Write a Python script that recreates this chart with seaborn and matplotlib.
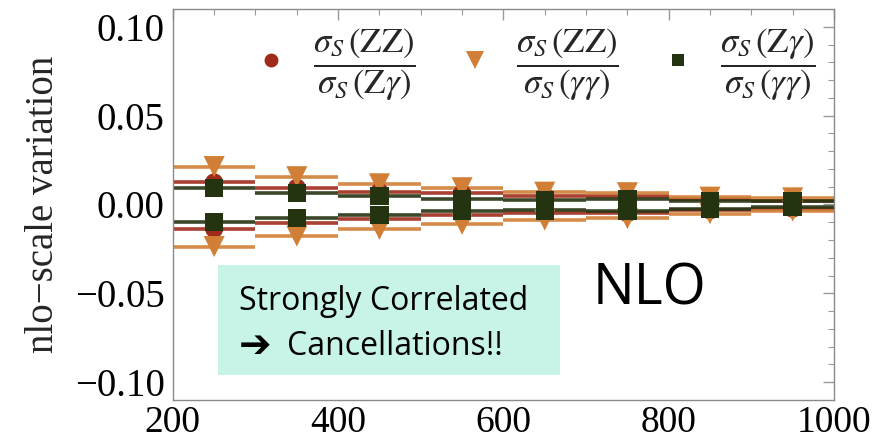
import numpy as np
import pandas as pd
import matplotlib
matplotlib.use("Agg")
import matplotlib.pyplot as plt
from matplotlib.lines import Line2D
from matplotlib.patches import Rectangle
import seaborn as sns

# Bin centres (GeV) and bin half-width
bin_centers = [250, 350, 450, 550, 650, 750, 850, 950]
bin_half = 50

# Upper / lower NLO scale variation of the cross-section ratios
zz_over_zg_up = [0.0124, 0.0094, 0.0071, 0.0062, 0.0047, 0.0047, 0.0028, 0.0022]
zz_over_zg_dn = [-0.0138, -0.0103, -0.0084, -0.0060, -0.0047, -0.0050, -0.0034, -0.0024]
zz_over_gg_up = [0.0213, 0.0156, 0.0116, 0.0094, 0.0069, 0.0066, 0.0041, 0.0037]
zz_over_gg_dn = [-0.0237, -0.0178, -0.0140, -0.0112, -0.0088, -0.0079, -0.0052, -0.0037]
zg_over_gg_up = [0.0091, 0.0066, 0.0047, 0.0032, 0.0024, 0.0028, 0.0019, 0.0019]
zg_over_gg_dn = [-0.0098, -0.0075, -0.0060, -0.0037, -0.0034, -0.0037, -0.0024, -0.0013]

series_labels = [
    r"$\dfrac{\sigma_S\,(\mathrm{ZZ})}{\sigma_S\,(\mathrm{Z}\gamma)}$",
    r"$\dfrac{\sigma_S\,(\mathrm{ZZ})}{\sigma_S\,(\gamma\gamma)}$",
    r"$\dfrac{\sigma_S\,(\mathrm{Z}\gamma)}{\sigma_S\,(\gamma\gamma)}$",
]
series_keys = ["zz_zg", "zz_gg", "zg_gg"]
colors = {"zz_zg": "#A02B1B", "zz_gg": "#D17F36", "zg_gg": "#243310"}
markers = {"zz_zg": "o", "zz_gg": "v", "zg_gg": "s"}
sizes = {"zz_zg": 170, "zz_gg": 230, "zg_gg": 175}

rows = []
for key, up, dn in [("zz_zg", zz_over_zg_up, zz_over_zg_dn),
                    ("zz_gg", zz_over_gg_up, zz_over_gg_dn),
                    ("zg_gg", zg_over_gg_up, zg_over_gg_dn)]:
    for x, u, d in zip(bin_centers, up, dn):
        rows.append({"mass": x, "var": u, "series": key})
        rows.append({"mass": x, "var": d, "series": key})
df = pd.DataFrame(rows)

sns.set_theme(style="white")
plt.rcParams["font.family"] = ["Liberation Serif", "DejaVu Serif"]
plt.rcParams["mathtext.fontset"] = "stix"

fig = plt.figure(figsize=(8.91, 4.43), dpi=100)
ax = fig.add_axes([0.194, 0.097, 0.742, 0.883])

for key in series_keys:
    sub = df[df["series"] == key]
    ax.errorbar(sub["mass"], sub["var"], xerr=bin_half, fmt="none",
                ecolor=colors[key], elinewidth=2.6, capsize=0, alpha=0.9, zorder=2)
    sns.scatterplot(data=sub, x="mass", y="var", ax=ax, color=colors[key],
                    marker=markers[key], s=sizes[key], edgecolor="none",
                    legend=False, zorder=3)

ax.set_xlim(200, 1000)
ax.set_ylim(-0.1101, 0.1101)
ax.set_xticks([200, 400, 600, 800, 1000])
ax.set_xticks(np.arange(250, 1000, 50), minor=True)
ax.set_yticks([-0.10, -0.05, 0.0, 0.05, 0.10])
ax.set_yticks(np.arange(-0.10, 0.1001, 0.01), minor=True)
ax.set_yticklabels(["\u22120.10", "\u22120.05", "0.00", "0.05", "0.10"])
ax.set_xlabel("")
ax.set_ylabel("nlo\u2212scale variation", fontsize=28, labelpad=9)

for side in ax.spines.values():
    side.set_color("#8a8a8a")
    side.set_linewidth(1.0)
ax.tick_params(axis="both", which="both", direction="in", top=True, right=True,
               color="#9a9a9a", labelsize=28, labelcolor="black")
ax.tick_params(which="major", length=8, width=1.0, pad=6)
ax.tick_params(which="minor", length=4, width=0.8)
ax.tick_params(axis="x", pad=4, labelsize=27)

handles = [Line2D([], [], linestyle="none", marker=markers[k], color=colors[k],
                  markersize={"zz_zg": 10, "zz_gg": 13, "zg_gg": 8.5}[k],
                  markeredgewidth=0) for k in series_keys]
ax.legend(handles, series_labels, loc="upper center", bbox_to_anchor=(0.55, 1.0),
          ncol=3, frameon=False, fontsize=25, handlelength=0.8, handletextpad=0.8,
          columnspacing=1.3, borderaxespad=0.1)

# Annotation box
ax.add_patch(Rectangle((218 / 891, (443 - 375) / 443), (560 - 218) / 891, 110 / 443,
                       transform=fig.transFigure, facecolor="#C8F3E7",
                       edgecolor="none", zorder=5))
fig.text(239 / 891, (443 - 310) / 443, "Strongly Correlated",
         fontsize=23, family=["Open Sans", "DejaVu Sans"], color="black", zorder=6)
fig.text(239 / 891, (443 - 357) / 443, "\u2794",
         fontsize=28, family=["DejaVu Sans"], weight="bold", color="black", zorder=6)
fig.text(287 / 891, (443 - 355) / 443, "Cancellations!!",
         fontsize=23, family=["Open Sans", "DejaVu Sans"], color="black", zorder=6)
fig.text(650 / 891, (443 - 290) / 443, "NLO", fontsize=40, ha="center", va="center",
         family=["Open Sans", "DejaVu Sans"], color="black")

fig.savefig("out.png", dpi=100)
